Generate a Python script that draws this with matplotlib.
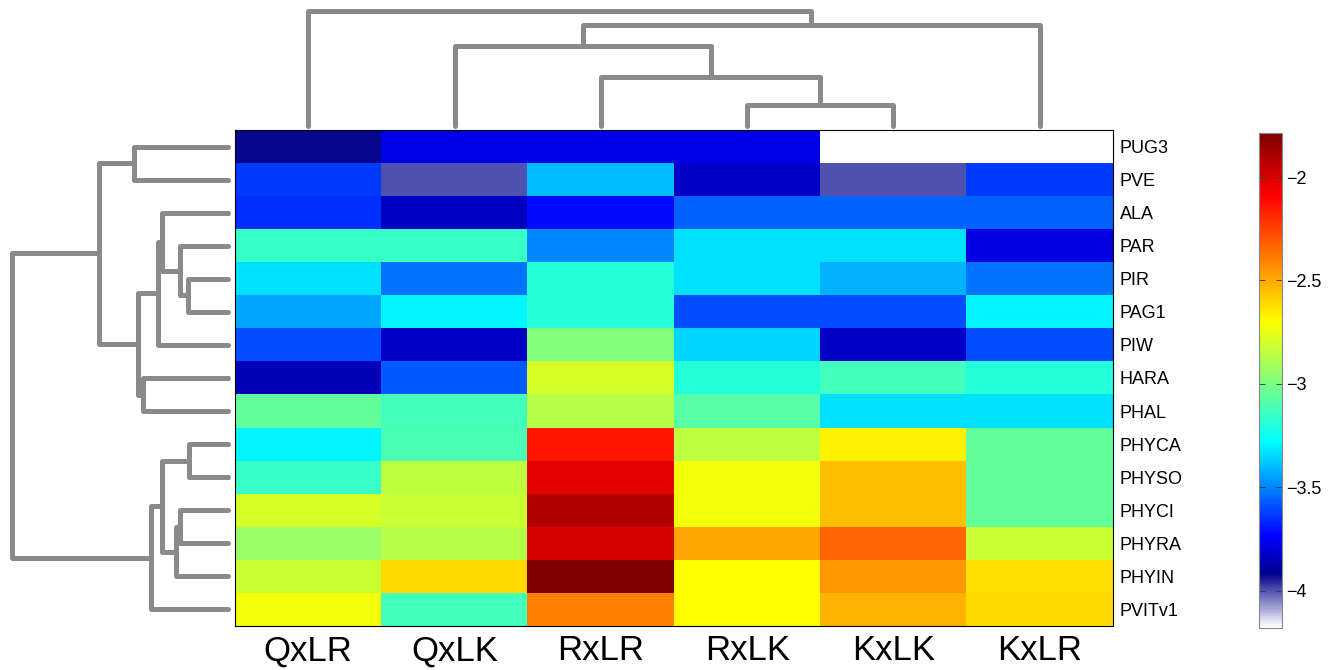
import numpy as np
import matplotlib
matplotlib.use("Agg")
import matplotlib.pyplot as plt
from matplotlib.colors import LinearSegmentedColormap

plt.rcParams['font.family'] = ['Liberation Sans', 'DejaVu Sans']

conditions = ["QxLR", "QxLK", "RxLR", "RxLK", "KxLK", "KxLR"]
genes = ["PUG3", "PVE", "ALA", "PAR", "PIR", "PAG1", "PIW", "HARA", "PHAL",
         "PHYCA", "PHYSO", "PHYCI", "PHYRA", "PHYIN", "PVITv1"]

# log expression, one list per gene in column order
PUG3 = [-3.92, -3.77, -3.77, -3.77, -4.18, -4.18]
PVE = [-3.63, -4.00, -3.40, -3.82, -4.00, -3.63]
ALA = [-3.65, -3.83, -3.72, -3.56, -3.56, -3.56]
PAR = [-3.16, -3.16, -3.49, -3.33, -3.33, -3.78]
PIR = [-3.33, -3.53, -3.19, -3.33, -3.42, -3.53]
PAG1 = [-3.44, -3.30, -3.19, -3.60, -3.60, -3.30]
PIW = [-3.60, -3.82, -2.99, -3.35, -3.82, -3.60]
HARA = [-3.85, -3.58, -2.79, -3.19, -3.13, -3.19]
PHAL = [-3.05, -3.13, -2.87, -3.08, -3.33, -3.33]
PHYCA = [-3.30, -3.11, -2.15, -2.85, -2.67, -3.05]
PHYSO = [-3.16, -2.85, -2.03, -2.73, -2.55, -3.05]
PHYCI = [-2.79, -2.82, -1.91, -2.73, -2.55, -3.05]
PHYRA = [-2.93, -2.87, -2.00, -2.49, -2.33, -2.82]
PHYIN = [-2.82, -2.61, -1.79, -2.70, -2.46, -2.62]
PVITv1 = [-2.73, -3.13, -2.40, -2.70, -2.52, -2.61]

# linkage: (child a, child b, height); ids >= n_leaves are earlier merges
row_links = [(4, 5, 40), (3, 15, 48), (9, 10, 39), (11, 12, 48), (18, 13, 52),
             (2, 16, 66), (20, 6, 70), (17, 19, 66), (22, 14, 77), (7, 8, 85),
             (21, 24, 90), (0, 1, 94), (26, 25, 129), (27, 23, 216)]
col_links = [(3, 4, 21), (2, 6, 49), (1, 7, 80), (8, 5, 101), (0, 9, 115)]

cbar_ticks = [-4, -3.5, -3, -2.5, -2]

vmin, vmax = -4.18, -1.787
cmap = LinearSegmentedColormap.from_list("jet_white", [
    (0.0, (1, 1, 1)),
    ((-3.92 - vmin) / (vmax - vmin), (0, 0, 0.55)),
    ((-3.74 - vmin) / (vmax - vmin), (0, 0, 1)),
    ((-3.28 - vmin) / (vmax - vmin), (0, 1, 1)),
    ((-2.70 - vmin) / (vmax - vmin), (1, 1, 0)),
    ((-2.09 - vmin) / (vmax - vmin), (1, 0, 0)),
    (1.0, (0.5, 0, 0)),
], N=256)

data = np.array([PUG3, PVE, ALA, PAR, PIR, PAG1, PIW, HARA, PHAL,
                 PHYCA, PHYSO, PHYCI, PHYRA, PHYIN, PVITv1])

W, H = 1330, 670
fig = plt.figure(figsize=(W / 100, H / 100), dpi=100)


def box(x0, y0, x1, y1):
    return [x0 / W, 1 - y1 / H, (x1 - x0) / W, (y1 - y0) / H]


ax = fig.add_axes(box(235, 130, 1113, 626))
im = ax.imshow(data, cmap=cmap, vmin=vmin, vmax=vmax, aspect="auto",
               interpolation="nearest", extent=(0, len(conditions), len(genes), 0))
ax.set_xticks(np.arange(len(conditions)) + 0.5)
ax.set_xticklabels(conditions, fontsize=25)
ax.set_yticks(np.arange(len(genes)) + 0.5)
ax.set_yticklabels(genes, fontsize=13)
ax.yaxis.tick_right()
ax.tick_params(length=0, pad=5)
ax.tick_params(axis="x", pad=6)
for s in ax.spines.values():
    s.set_linewidth(0.8)

line_kw = dict(color="#8a8a8a", lw=3.6, solid_capstyle="round",
               solid_joinstyle="round", clip_on=False)


def draw_dendro(dax, links, n, vertical):
    pos = {i: i + 0.5 for i in range(n)}
    hgt = {i: 0.0 for i in range(n)}
    for k, (a, b, h) in enumerate(links):
        xs = [hgt[a], h, h, hgt[b]]
        ys = [pos[a], pos[a], pos[b], pos[b]]
        if vertical:
            dax.plot(ys, xs, **line_kw)
        else:
            dax.plot(xs, ys, **line_kw)
        pos[n + k] = (pos[a] + pos[b]) / 2
        hgt[n + k] = h
    dax.axis("off")


lax = fig.add_axes(box(12, 130, 228, 626))
draw_dendro(lax, row_links, len(genes), vertical=False)
lax.set_xlim(row_links[-1][2], 0)
lax.set_ylim(len(genes), 0)

tax = fig.add_axes(box(235, 11, 1113, 126))
draw_dendro(tax, col_links, len(conditions), vertical=True)
tax.set_xlim(0, len(conditions))
tax.set_ylim(0, col_links[-1][2])

cax = fig.add_axes(box(1259, 133, 1282, 628))
cb = fig.colorbar(im, cax=cax, ticks=cbar_ticks)
cb.ax.set_yticklabels([f"{t:g}".replace("-", "\u2212") for t in cbar_ticks])
cb.outline.set_edgecolor("#888888")
cb.outline.set_linewidth(0.8)
cax.tick_params(direction="in", length=4, width=0.6, color="#333333",
                left=True, right=True, labelsize=13, pad=3)

fig.savefig("out.png", dpi=100, facecolor="white")
